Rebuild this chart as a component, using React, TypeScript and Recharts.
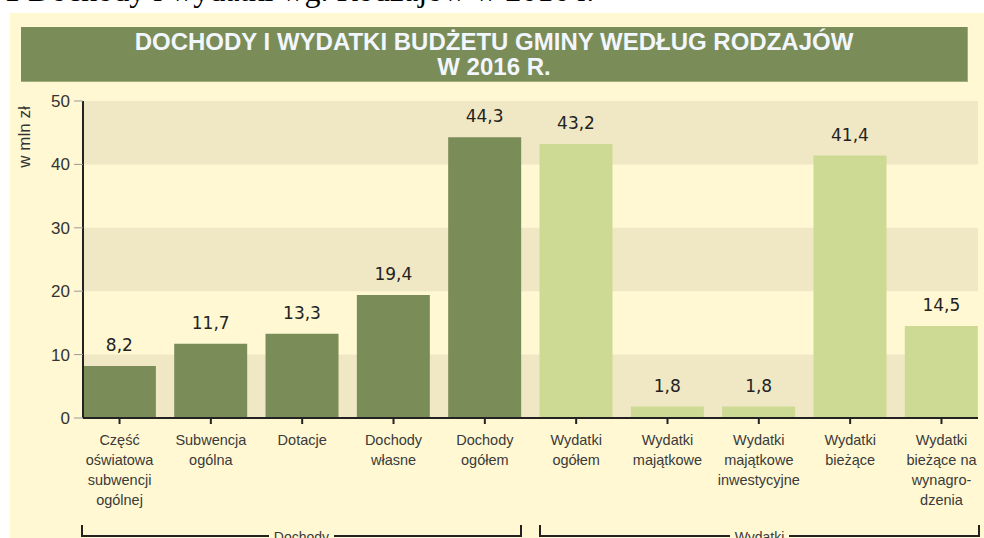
import React from 'react';
import { BarChart, Bar, XAxis, YAxis, Cell, LabelList, ReferenceArea } from 'recharts';

const categories = [
  'Część\noświatowa\nsubwencji\nogólnej',
  'Subwencja\nogólna',
  'Dotacje',
  'Dochody\nwłasne',
  'Dochody\nogółem',
  'Wydatki\nogółem',
  'Wydatki\nmajątkowe',
  'Wydatki\nmajątkowe\ninwestycyjne',
  'Wydatki\nbieżące',
  'Wydatki\nbieżące na\nwynagro-\ndzenia',
];
const values = [8.2, 11.7, 13.3, 19.4, 44.3, 43.2, 1.8, 1.8, 41.4, 14.5];
const groups = ['Dochody', 'Dochody', 'Dochody', 'Dochody', 'Dochody', 'Wydatki', 'Wydatki', 'Wydatki', 'Wydatki', 'Wydatki'];
const yTicks = [0, 10, 20, 30, 40, 50];
const bands: [number, number][] = [[0, 10], [20, 30], [40, 50]];
const title1 = 'DOCHODY I WYDATKI BUDŻETU GMINY WEDŁUG RODZAJÓW';
const title2 = 'W 2016 R.';
const caption = '1 Dochody i wydatki wg. Rodzajów w 2016 r.';
const yLabel = 'w mln zł';

const data = values.map((v, i) => ({ idx: i, value: v, group: groups[i] }));

const DARK = '#7A8C58';
const LIGHT = '#CCDA94';
const CREAM = '#FFF8D2';
const BEIGE = '#F0E8C4';
const SANS = '"Liberation Sans", Arial, sans-serif';

const XTick = (props: any) => {
  const { x, y, payload } = props;
  const lines = categories[payload.value].split('\n');
  return (
    <text x={x} y={y} textAnchor="middle" fill="#3a3a3a" fontSize={14.5} fontFamily={SANS}>
      {lines.map((l, i) => (
        <tspan key={i} x={x} y={y + 19 + i * 20}>{l}</tspan>
      ))}
    </text>
  );
};

const Bracket = ({ left, right, label }: { left: number; right: number; label: string }) => (
  <div style={{ position: 'absolute', left, top: 525, width: right - left, height: 12, borderLeft: '2px solid #222', borderRight: '2px solid #222', borderBottom: '2px solid #222', boxSizing: 'border-box' }}>
    <div style={{ position: 'absolute', left: 0, right: 0, top: 4, textAlign: 'center', fontFamily: SANS, fontSize: 14, color: '#3a3a3a', lineHeight: '16px' }}>
      <span style={{ background: CREAM, padding: '0 5px' }}>{label}</span>
    </div>
  </div>
);

export default function App() {
  return (
    <div style={{ position: 'absolute', left: 0, top: 0, width: 984, height: 538, overflow: 'hidden', background: '#fff' }}>
      <div style={{ position: 'absolute', left: 4, top: -28, fontFamily: '"Liberation Serif", "Times New Roman", serif', fontSize: 32, lineHeight: '36px', whiteSpace: 'nowrap', color: '#000' }}>{caption}</div>
      <div style={{ position: 'absolute', left: 10, top: 13, width: 974, height: 525, background: CREAM }} />
      <div style={{ position: 'absolute', left: 21, top: 27, width: 947, height: 55, background: DARK, borderRight: '1px solid #9EAF7C', borderBottom: '1px solid #9EAF7C', boxSizing: 'border-box', color: '#F2F6FF', fontFamily: SANS, fontWeight: 'bold', fontSize: 24, textAlign: 'center', lineHeight: '25px', paddingTop: 2 }}>
        <div>{title1}</div>
        <div>{title2}</div>
      </div>
      <div style={{ position: 'absolute', left: 0, top: 0 }}>
        <BarChart width={984} height={538} data={data} margin={{ top: 101, right: 6, bottom: 20, left: 43 }}>
          {bands.map(([a, b]) => (
            <ReferenceArea key={a} y1={a} y2={b} fill={BEIGE} fillOpacity={1} stroke="none" ifOverflow="visible" />
          ))}
          <XAxis
            type="number"
            dataKey="idx"
            domain={[-0.4, 9.4]}
            ticks={[0, 1, 2, 3, 4, 5, 6, 7, 8, 9]}
            interval={0}
            height={100}
            axisLine={{ stroke: '#222', strokeWidth: 2 }}
            tickLine={{ stroke: '#222', strokeWidth: 2 }}
            tickSize={6}
            tick={<XTick />}
          />
          <YAxis
            width={40}
            domain={[0, 50]}
            ticks={yTicks}
            axisLine={{ stroke: '#222', strokeWidth: 2 }}
            tickLine={{ stroke: '#999' }}
            tickSize={9}
            tickMargin={4}
            tick={{ fill: '#333', fontSize: 17, fontFamily: SANS }}
          />
          <Bar dataKey="value" barSize={73} isAnimationActive={false}>
            {data.map((d) => (
              <Cell key={d.idx} fill={d.group === 'Dochody' ? DARK : LIGHT} />
            ))}
            <LabelList
              dataKey="value"
              position="top"
              offset={15}
              formatter={(v: any) => String(v).replace('.', ',')}
              style={{ fill: '#222', fontSize: 17, fontFamily: '"DejaVu Sans", Verdana, sans-serif' }}
            />
          </Bar>
        </BarChart>
      </div>
      <div style={{ position: 'absolute', left: 25, top: 137, transform: 'translate(-50%, -50%) rotate(-90deg)', fontFamily: SANS, fontSize: 17, color: '#333', whiteSpace: 'nowrap', lineHeight: '18px' }}>{yLabel}</div>
      <Bracket left={81} right={522} label="Dochody" />
      <Bracket left={539} right={980} label="Wydatki" />
    </div>
  );
}
